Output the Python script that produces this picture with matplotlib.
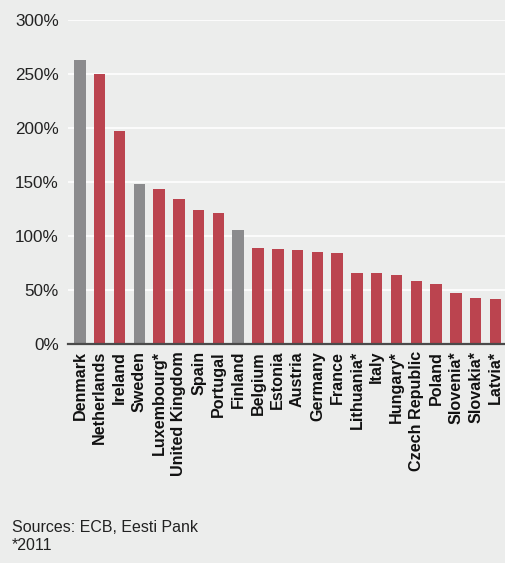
import matplotlib
matplotlib.use("Agg")
import matplotlib.pyplot as plt

countries = ["Denmark", "Netherlands", "Ireland", "Sweden", "Luxembourg*",
             "United Kingdom", "Spain", "Portugal", "Finland", "Belgium",
             "Estonia", "Austria", "Germany", "France", "Lithuania*", "Italy",
             "Hungary*", "Czech Republic", "Poland", "Slovenia*", "Slovakia*",
             "Latvia*"]
values = [263, 250, 197, 148, 143.5, 134, 124, 121, 105.5, 89, 88, 87, 85, 84,
          66, 66, 64, 58, 55.5, 47, 42.5, 41.5]
non_euro = {"Denmark", "Sweden", "Finland"}
yticks = [0, 50, 100, 150, 200, 250, 300]

BG = "#ECEDEC"
RED = "#BB444F"
GREY = "#8B8B8D"

plt.rcParams["font.family"] = ["Liberation Sans", "DejaVu Sans"]

fig = plt.figure(figsize=(5.05, 5.63), dpi=100, facecolor=BG)
ax = fig.add_axes([68 / 505, 1 - 344 / 563, 1 - 68 / 505, 324 / 563])
ax.set_facecolor(BG)

colors = [GREY if c in non_euro else RED for c in countries]
x = range(len(countries))
ax.bar(x, values, width=0.58, color=colors, zorder=2)

ax.set_ylim(0, 300)
ax.set_xlim(-0.6, len(countries) - 0.52)
ax.set_yticks(yticks)
ax.set_yticklabels([f"{v}%" for v in yticks], fontsize=12.3, color="#222222")
ax.yaxis.grid(True, color="white", linewidth=1.2, zorder=0)
ax.set_axisbelow(True)

ax.set_xticks(list(x))
ax.set_xticklabels(countries, rotation=90, fontsize=11.6, fontweight="bold",
                   color="#111111", va="top", ha="center")
ax.tick_params(axis="x", length=0, pad=5)
ax.tick_params(axis="y", length=0, pad=6.5)

for side in ("top", "right", "left"):
    ax.spines[side].set_visible(False)
ax.spines["bottom"].set_color("#4A4A4A")
ax.spines["bottom"].set_linewidth(1.6)
ax.spines["bottom"].set_zorder(3)

fig.text(12 / 505, 1 - 532 / 563, "Sources: ECB, Eesti Pank", fontsize=11.5,
         color="#222222", va="baseline", ha="left")
fig.text(12 / 505, 1 - 550 / 563, "*2011", fontsize=11.5,
         color="#222222", va="baseline", ha="left")

fig.savefig("out.png", dpi=100, facecolor=BG)
